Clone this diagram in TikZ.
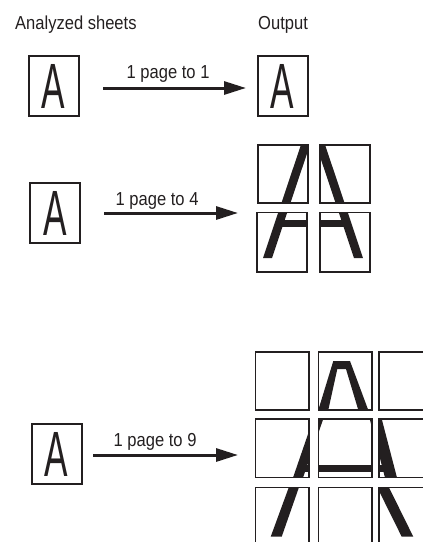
\documentclass[tikz,border=0pt]{standalone}
\usepackage{fontspec}
\setmainfont{Liberation Sans}
\newfontfamily\lblfont[FakeStretch=0.88]{Liberation Sans}
\newfontfamily\bigfont[FakeStretch=0.55]{Liberation Sans}
\usetikzlibrary{arrows.meta}
\definecolor{ink}{HTML}{231F20}
\begin{document}
\begin{tikzpicture}[x=1pt,y=-1pt,
  lbl/.style={font=\lblfont\fontsize{18.8}{20}\selectfont, text=ink, inner sep=0pt, anchor=base west},
  sheet/.style={draw=ink, line width=2pt, minimum width=50pt, minimum height=60pt, inner sep=0pt,
                font=\bigfont\fontsize{64}{66}\selectfont, text=ink},
  tile/.style={draw=ink, line width=1.6pt},
  conn/.style={draw=ink, line width=3pt, -{Triangle[length=22pt,width=13pt]}},
  glyph/.style={fill=ink},
]
\useasboundingbox (0,0) rectangle (423,542);

% headings
\node[lbl] (hsheets) at (15,29.3) {Analyzed sheets};
\node[lbl] (hout) at (258,29.3) {Output};

% analyzed sheets
\node[sheet] (s1) at (53.5,86) {A};
\node[sheet] (s2) at (55,213) {A};
\node[sheet] (s3) at (56.5,454) {A};

% output 1 page to 1
\node[sheet] (o1) at (282.5,86) {A};

% arrows and labels
\coordinate (a1s) at (103,88);  \coordinate (a1e) at (246,88);
\coordinate (a2s) at (104,213); \coordinate (a2e) at (238,213);
\coordinate (a3s) at (93,455);  \coordinate (a3e) at (238,455);
\draw[conn] (a1s) -- (a1e);
\draw[conn] (a2s) -- (a2e);
\draw[conn] (a3s) -- (a3e);
\node[lbl] (l1) at (126.5,78) {1 page to 1};
\node[lbl] (l2) at (115.5,205) {1 page to 4};
\node[lbl] (l3) at (113.5,446) {1 page to 9};

% ---- 1 page to 4 ----
\begin{scope}
  \clip (257.8,144.8) rectangle (308.2,203.2)
        (319.8,144.8) rectangle (370.2,203.2)
        (256.8,212.3) rectangle (307.2,272.2)
        (319.8,212.3) rectangle (370.2,272.2);
  \fill[glyph] (263,258) -- (272,258) -- (314.9,130) -- (305.9,130) -- cycle;
  \fill[glyph] (354,258) -- (363,258) -- (320.1,130) -- (311.1,130) -- cycle;
  \fill[glyph] (282,220) rectangle (346,227);
\end{scope}
\draw[tile] (257.8,144.8) rectangle (308.2,203.2);
\draw[tile] (319.8,144.8) rectangle (370.2,203.2);
\draw[tile] (256.8,212.3) rectangle (307.2,272.2);
\draw[tile] (319.8,212.3) rectangle (370.2,272.2);

% ---- 1 page to 9 ----
\begin{scope}
  \clip (255.3,351.8) rectangle (308.7,409.9)
        (318.3,351.8) rectangle (371.7,409.9)
        (378.8,351.8) rectangle (433,409.9)
        (255.3,419.1) rectangle (308.7,477.5)
        (318.3,419.1) rectangle (371.7,477.5)
        (378.8,419.1) rectangle (433,477.5)
        (255.3,487.3) rectangle (308.7,550)
        (318.3,487.3) rectangle (371.7,550)
        (378.8,487.3) rectangle (433,550);
  \fill[glyph] (316.8,415) -- (333.3,361) -- (350,361) -- (370.1,415) -- (359.8,415)
               -- (346,369) -- (337.3,369) -- (327.2,415) -- cycle;
  \fill[glyph] (314.6,415) -- (324.6,415) -- (302.2,480) -- (292.2,480) -- cycle;
  \fill[glyph] (368.7,415) -- (380.7,415) -- (397.6,480) -- (385.6,480) -- cycle;
  \fill[glyph] (300,465) rectangle (385,471.7);
  \fill[glyph] (291.5,480) -- (301.5,480) -- (281.7,536.7) -- (270.7,536.7) -- cycle;
  \fill[glyph] (373.6,480) -- (385.3,480) -- (413.3,536.7) -- (401.7,536.7) -- cycle;
\end{scope}
\foreach \xa/\xb in {255.3/308.7, 318.3/371.7, 378.8/433}{
  \foreach \ya/\yb in {351.8/409.9, 419.1/477.5, 487.3/550}{
    \draw[tile] (\xa,\ya) rectangle (\xb,\yb);
  }
}
\end{tikzpicture}
\end{document}
